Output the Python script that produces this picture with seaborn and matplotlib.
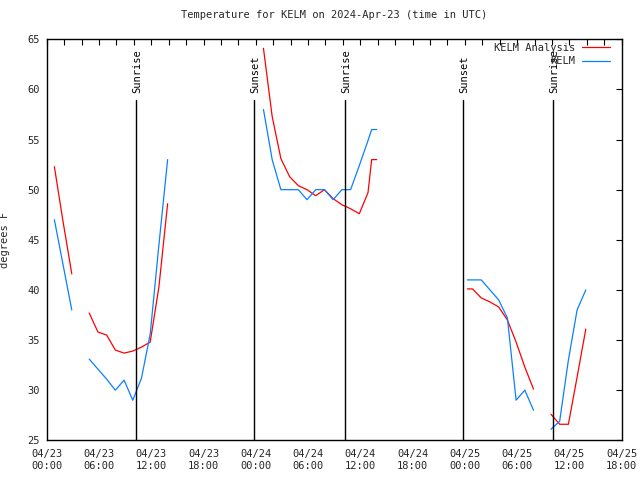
import numpy as np
import pandas as pd
import matplotlib
matplotlib.use("Agg")
import matplotlib.pyplot as plt
from matplotlib.lines import Line2D
import seaborn as sns

# ---- data (hours since 2024-04-23 00:00 UTC) ----
ana_t1 = [0.88, 1.88, 2.88]
ana_v1 = [52.3, 46.8, 41.6]
ana_t2 = [4.88, 5.88, 6.88, 7.88, 8.88, 9.88, 10.88, 11.88, 12.88, 13.88]
ana_v2 = [37.7, 35.8, 35.5, 34.0, 33.7, 33.9, 34.3, 34.8, 40.3, 48.6]
ana_t3 = [24.88, 25.88, 26.88, 27.88, 28.88, 29.88, 30.88, 31.88, 32.88, 33.88,
          34.88, 35.88, 36.88, 37.3, 37.88]
ana_v3 = [64.1, 57.3, 53.1, 51.3, 50.4, 50.0, 49.4, 50.0, 49.1, 48.5,
          48.1, 47.6, 49.7, 53.0, 53.0]
ana_t4 = [48.28, 48.88, 49.88, 50.88, 51.88, 52.88, 53.88, 54.88, 55.88]
ana_v4 = [40.1, 40.1, 39.2, 38.8, 38.3, 37.0, 34.8, 32.3, 30.1]
ana_t5 = [57.88, 58.88, 59.88, 60.88, 61.88]
ana_v5 = [27.6, 26.6, 26.6, 31.3, 36.1]

obs_t1 = [0.88, 1.88, 2.88]
obs_v1 = [47.0, 42.5, 38.0]
obs_t2 = [4.88, 5.88, 6.88, 7.88, 8.88, 9.88, 10.88, 11.88, 12.88, 13.88]
obs_v2 = [33.1, 32.1, 31.1, 30.0, 31.0, 29.0, 31.2, 35.6, 44.5, 53.0]
obs_t3 = [24.88, 25.88, 26.88, 27.88, 28.88, 29.88, 30.88, 31.88, 32.88, 33.88,
          34.88, 35.88, 36.88, 37.3, 37.88]
obs_v3 = [58.0, 53.0, 50.0, 50.0, 50.0, 49.0, 50.0, 50.0, 49.0, 50.0,
          50.0, 52.4, 54.9, 56.0, 56.0]
obs_t4 = [48.28, 48.88, 49.88, 50.88, 51.88, 52.88, 53.88, 54.88, 55.88]
obs_v4 = [41.0, 41.0, 41.0, 40.0, 39.0, 37.2, 29.0, 30.0, 28.0]
obs_t5 = [57.88, 58.88, 59.88, 60.88, 61.88]
obs_v5 = [26.1, 26.9, 33.0, 38.0, 40.0]

sun_times = [10.25, 23.83, 34.28, 47.82, 58.15]
sun_labels = ["Sunrise", "Sunset", "Sunrise", "Sunset", "Sunrise"]

xtick_pos = [0, 6, 12, 18, 24, 30, 36, 42, 48, 54, 60, 66]
xtick_labels = ["04/23\n00:00", "04/23\n06:00", "04/23\n12:00", "04/23\n18:00",
                "04/24\n00:00", "04/24\n06:00", "04/24\n12:00", "04/24\n18:00",
                "04/25\n00:00", "04/25\n06:00", "04/25\n12:00", "04/25\n18:00"]
yticks = [25, 30, 35, 40, 45, 50, 55, 60, 65]

series_names = ["KELM Analysis", "KELM"]
series_colors = ["#ff0000", "#0a80ff"]
title = "Temperature for KELM on 2024-Apr-23 (time in UTC)"

# ---- build tables ----
def build(ts, vs, name):
    rows = []
    for i, (t, v) in enumerate(zip(ts, vs)):
        for tt, vv in zip(t, v):
            rows.append({"t": tt, "temp": vv, "seg": i, "series": name})
    return pd.DataFrame(rows)

ana = build([ana_t1, ana_t2, ana_t3, ana_t4, ana_t5],
            [ana_v1, ana_v2, ana_v3, ana_v4, ana_v5], series_names[0])
obs = build([obs_t1, obs_t2, obs_t3, obs_t4, obs_t5],
            [obs_v1, obs_v2, obs_v3, obs_v4, obs_v5], series_names[1])

sns.set_style("white")
plt.rcParams["font.family"] = ["DejaVu Sans Mono", "DejaVu Sans"]
FS = 7.5

fig = plt.figure(figsize=(6.4, 4.8), dpi=100)
ax = fig.add_axes([46.7 / 640, 1 - 440.3 / 480, 575 / 640, 401 / 480])

sns.lineplot(data=ana, x="t", y="temp", units="seg", estimator=None,
             color=series_colors[0], lw=0.9, ax=ax, legend=False)
sns.lineplot(data=obs, x="t", y="temp", units="seg", estimator=None,
             color=series_colors[1], lw=0.9, ax=ax, legend=False)

for st, lab in zip(sun_times, sun_labels):
    ax.plot([st, st], [25, 58.9], color="black", lw=1.0)
    ax.text(st + 0.1, 59.6, lab, rotation=90, ha="center", va="bottom",
            fontsize=FS, color="black")

ax.set_xlim(0, 66)
ax.set_ylim(25, 65)
ax.set_xticks(xtick_pos)
ax.set_xticklabels(xtick_labels, fontsize=FS, linespacing=1.25)
ax.set_xticks(np.arange(0, 67, 2), minor=True)
ax.set_yticks(yticks)
ax.set_yticklabels([str(y) for y in yticks], fontsize=FS)
ax.tick_params(axis="both", which="both", direction="in", length=4,
               width=0.8, top=True, right=True, color="black")
ax.tick_params(axis="x", which="major", pad=6)
ax.tick_params(axis="y", which="major", pad=5)
for s in ax.spines.values():
    s.set_color("black")
    s.set_linewidth(1.0)

ax.set_xlabel("")
ax.set_ylabel("degrees F", fontsize=FS)
ax.yaxis.set_label_coords(-0.064, 0.5)
ax.set_title(title, fontsize=FS, pad=15)

handles = [Line2D([], [], color=c, lw=0.9) for c in series_colors]
ax.legend(handles, series_names, loc="upper right",
          bbox_to_anchor=(0.98, 0.992), frameon=False,
          markerfirst=False, fontsize=FS, handlelength=2.7,
          handletextpad=0.7, labelspacing=0.35, borderpad=0,
          borderaxespad=0)

fig.savefig("out.png", dpi=100)
